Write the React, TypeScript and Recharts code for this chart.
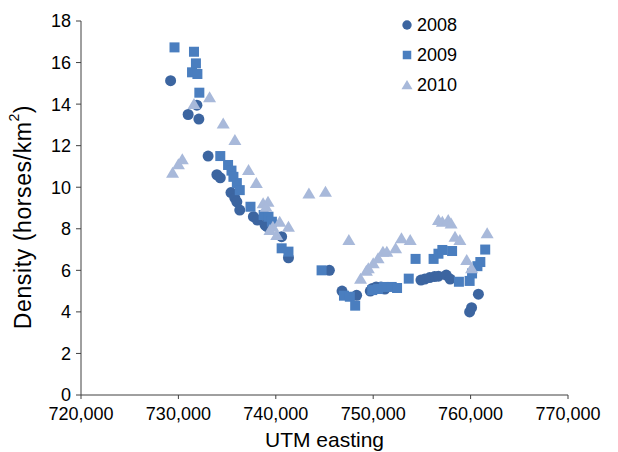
import { ScatterChart, Scatter, XAxis, YAxis, Legend } from 'recharts';

const xTicks = [720000, 730000, 740000, 750000, 760000, 770000];
const yTicks = [0, 2, 4, 6, 8, 10, 12, 14, 16, 18];
const years = ['2008', '2009', '2010'];
const colors = ['#3c65a0', '#4a7ebf', '#a8b9da'];

const easting2008 = [729200, 731000, 731900, 732100, 733050, 733950, 734300, 735400, 735800, 736000, 736300, 737700, 738100, 738900, 739100, 740600, 741300, 745500, 746800, 748300, 749700, 749900, 750300, 750800, 751200, 754900, 755300, 755800, 756300, 756700, 757500, 757900, 759900, 760100, 760800];
const density2008 = [15.13, 13.5, 13.95, 13.28, 11.5, 10.6, 10.45, 9.74, 9.47, 9.3, 8.9, 8.58, 8.42, 8.18, 8.1, 7.62, 6.6, 6.0, 5.0, 4.8, 5.0, 5.13, 5.2, 5.2, 5.1, 5.53, 5.58, 5.65, 5.7, 5.72, 5.77, 5.58, 4.0, 4.2, 4.85];

const easting2009 = [729600, 731400, 731600, 731800, 731950, 732150, 734300, 735100, 735450, 735650, 736000, 736300, 737400, 738750, 739250, 739600, 740600, 741300, 744700, 747000, 747600, 748150, 749900, 750500, 751100, 751900, 752450, 753650, 754350, 756200, 756700, 757100, 758100, 758800, 759900, 760150, 760700, 761000, 761500];
const density2009 = [16.73, 15.53, 16.52, 15.96, 15.45, 14.55, 11.5, 11.07, 10.8, 10.5, 10.2, 9.86, 9.06, 8.66, 8.58, 8.34, 7.06, 6.9, 6.0, 4.78, 4.73, 4.3, 5.05, 5.1, 5.2, 5.2, 5.15, 5.6, 6.55, 6.55, 6.8, 6.98, 6.93, 5.45, 5.49, 5.85, 6.2, 6.4, 7.0];

const easting2010 = [729400, 730000, 730400, 731600, 733200, 734600, 735800, 737200, 738000, 738700, 739200, 739000, 739700, 739400, 740100, 740400, 741300, 743400, 745100, 747500, 748700, 749300, 749500, 750000, 750500, 751000, 751400, 752300, 752900, 753800, 756700, 757100, 757700, 758000, 758400, 758900, 759600, 760100, 761700];
const density2010 = [10.7, 11.1, 11.35, 14.0, 14.33, 13.07, 12.27, 10.83, 10.2, 9.23, 9.3, 9.06, 8.1, 7.94, 7.7, 8.34, 8.1, 9.7, 9.78, 7.46, 5.6, 5.98, 6.1, 6.34, 6.58, 6.9, 6.9, 7.06, 7.55, 7.46, 8.42, 8.34, 8.42, 8.26, 7.62, 7.46, 6.5, 6.1, 7.78];

const zip = (xs: number[], ys: number[]) => xs.map((x, i) => ({ x, y: ys[i] }));
const data2008 = zip(easting2008, density2008);
const data2009 = zip(easting2009, density2009);
const data2010 = zip(easting2010, density2010);

const font = '"Liberation Sans", Arial, sans-serif';
const axisColor = '#404040';

const Marker = ({ kind, cx, cy, fill, s = 1 }: any) => {
  if (kind === 0) return <circle cx={cx} cy={cy} r={5.5 * s} fill={fill} />;
  if (kind === 1) return <rect x={cx - 5 * s} y={cy - 5 * s} width={10 * s} height={10 * s} fill={fill} />;
  return (
    <polygon
      points={`${cx},${cy - 6 * s} ${cx + 6.5 * s},${cy + 5 * s} ${cx - 6.5 * s},${cy + 5 * s}`}
      fill={fill}
    />
  );
};

const LegendBox = () => (
  <div style={{ fontFamily: font, fontSize: 18, color: '#000' }}>
    {years.map((yr, i) => (
      <div key={yr} style={{ display: 'flex', alignItems: 'center', height: 30 }}>
        <svg width={14} height={14}>
          <Marker kind={i} cx={7} cy={7} fill={colors[i]} s={0.85} />
        </svg>
        <span style={{ marginLeft: 3 }}>{yr}</span>
      </div>
    ))}
  </div>
);

const XTitle = ({ viewBox }: any) => (
  <text
    x={viewBox.x + viewBox.width / 2}
    y={viewBox.y + 52}
    textAnchor="middle"
    fontSize={21}
    fontFamily={font}
    fill="#000"
  >
    UTM easting
  </text>
);

const YTitle = () => (
  <text
    transform="translate(23,217) rotate(-90)"
    textAnchor="middle"
    dominantBaseline="central"
    fontSize={23}
    letterSpacing={0.6}
    fontFamily={font}
    fill="#000"
  >
    Density (horses/km<tspan dy={-9} fontSize={14}>2</tspan>
    <tspan dy={9}>)</tspan>
  </text>
);

export default function App() {
  return (
    <div style={{ position: 'absolute', left: 0, top: 0, width: 618, height: 452, background: '#fff' }}>
      <ScatterChart width={618} height={452} margin={{ top: 21, right: 50, bottom: 0, left: 0 }}>
        <XAxis
          type="number"
          dataKey="x"
          domain={[720000, 770000]}
          ticks={xTicks}
          tickFormatter={(v: number) => v.toLocaleString('en-US')}
          height={57}
          tickSize={4}
          tickMargin={8}
          stroke={axisColor}
          tick={{ fill: '#000', fontSize: 18, fontFamily: font }}
          label={<XTitle />}
          allowDataOverflow
        />
        <YAxis
          type="number"
          dataKey="y"
          domain={[0, 18]}
          ticks={yTicks}
          width={81}
          tickSize={5}
          tickMargin={5}
          stroke={axisColor}
          tick={{ fill: '#000', fontSize: 18, fontFamily: font }}
          label={<YTitle />}
        />
        <Legend
          layout="vertical"
          align="center"
          verticalAlign="middle"
          wrapperStyle={{ left: 400, top: 10, width: 90 }}
          content={<LegendBox />}
        />
        <Scatter
          name="2008"
          data={data2008}
          isAnimationActive={false}
          shape={(p: any) => <Marker kind={0} cx={p.cx} cy={p.cy} fill={colors[0]} />}
        />
        <Scatter
          name="2009"
          data={data2009}
          isAnimationActive={false}
          shape={(p: any) => <Marker kind={1} cx={p.cx} cy={p.cy} fill={colors[1]} />}
        />
        <Scatter
          name="2010"
          data={data2010}
          isAnimationActive={false}
          shape={(p: any) => <Marker kind={2} cx={p.cx} cy={p.cy} fill={colors[2]} />}
        />
      </ScatterChart>
    </div>
  );
}
